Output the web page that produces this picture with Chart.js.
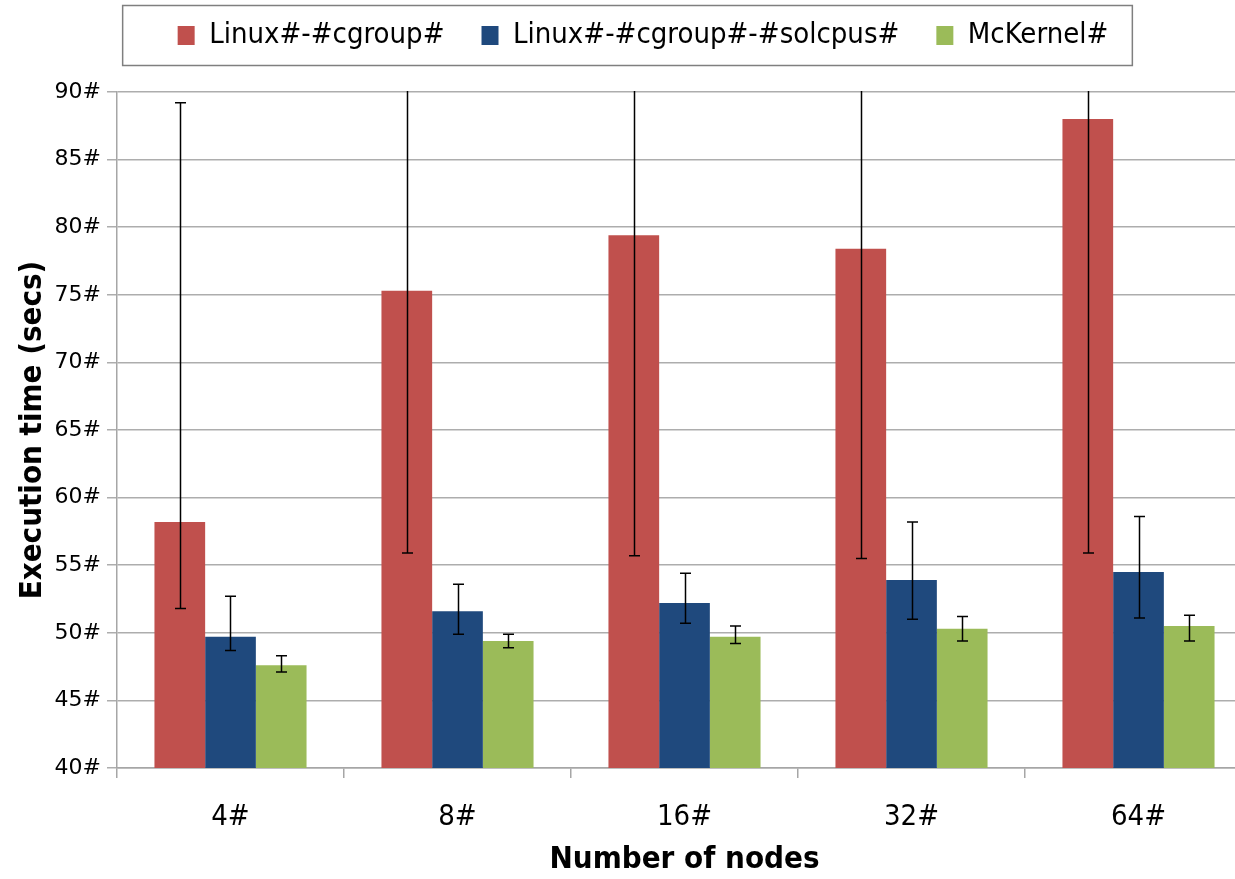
<!DOCTYPE html>
<html>
<head>
<meta charset="utf-8">
<script src="https://cdn.jsdelivr.net/npm/chart.js@4"></script>
<style>
  html, body { margin: 0; padding: 0; background: #fff; overflow: hidden; }
  #wrap { width: 1252px; height: 879px; }
</style>
</head>
<body>
<div id="wrap"><canvas id="chart" width="1252" height="879"></canvas></div>
<script>
// ---- data ----
const nodes = ['4#', '8#', '16#', '32#', '64#'];
const seriesNames = ['Linux#-#cgroup#', 'Linux#-#cgroup#-#solcpus#', 'McKernel#'];

const cgroup   = [58.2, 75.3, 79.4, 78.4, 88.0];
const cgroupLo = [51.8, 55.9, 55.7, 55.5, 55.9];
const cgroupHi = [89.2, 96.0, 98.0, 97.0, 99.0]; // tops above 90 are cut off in the picture

const isol   = [49.7, 51.6, 52.2, 53.9, 54.5];
const isolLo = [48.7, 49.9, 50.7, 51.0, 51.1];
const isolHi = [52.7, 53.6, 54.4, 58.2, 58.6];

const mck   = [47.6, 49.4, 49.7, 50.3, 50.5];
const mckLo = [47.1, 48.9, 49.2, 49.4, 49.4];
const mckHi = [48.3, 49.9, 50.5, 51.2, 51.3];

const colors = ['#C0504D', '#1F497D', '#9BBB59'];
const errors = [[cgroupLo, cgroupHi], [isolLo, isolHi], [mckLo, mckHi]];

const narrow = '"Liberation Sans Narrow", "DejaVu Sans Condensed", sans-serif';

// min/max whiskers on each bar
const errorBars = {
  id: 'errorBars',
  afterDatasetsDraw(chart) {
    const ctx = chart.ctx;
    const area = chart.chartArea;
    const y = chart.scales.y;
    ctx.save();
    ctx.beginPath();
    ctx.rect(area.left, area.top - 1, area.right - area.left, area.bottom - area.top + 1);
    ctx.clip();
    ctx.strokeStyle = '#000';
    ctx.lineWidth = 1.5;
    chart.data.datasets.forEach((ds, i) => {
      const meta = chart.getDatasetMeta(i);
      meta.data.forEach((bar, j) => {
        const lo = y.getPixelForValue(errors[i][0][j]);
        const hi = y.getPixelForValue(errors[i][1][j]);
        const x = Math.round(bar.x) + 0.5;
        ctx.beginPath();
        ctx.moveTo(x, lo); ctx.lineTo(x, hi);
        ctx.moveTo(x - 5.5, lo); ctx.lineTo(x + 5.5, lo);
        ctx.moveTo(x - 5.5, hi); ctx.lineTo(x + 5.5, hi);
        ctx.stroke();
      });
    });
    ctx.restore();
  }
};

// frame round the legend, fixed legend height, legend nudged right
const legendFrame = {
  id: 'legendFrame',
  afterInit(chart) {
    const lg = chart.legend;
    const fit = lg.fit;
    lg.fit = function () { fit.call(this); this.height = 108; };
  },
  afterLayout(chart) {
    chart.legend.left += 17;
    chart.legend.right += 17;
  },
  afterDraw(chart) {
    const boxes = chart.legend.legendHitBoxes;
    if (!boxes || !boxes.length) return;
    const left = boxes[0].left - 55;
    const last = boxes[boxes.length - 1];
    const right = last.left + last.width + 24;
    const ctx = chart.ctx;
    ctx.save();
    ctx.strokeStyle = '#7f7f7f';
    ctx.lineWidth = 1.5;
    ctx.strokeRect(left, 5.5, right - left, 60);
    ctx.restore();
  }
};

new Chart(document.getElementById('chart'), {
  type: 'bar',
  data: {
    labels: nodes,
    datasets: [
      { label: seriesNames[0], data: cgroup, backgroundColor: colors[0] },
      { label: seriesNames[1], data: isol, backgroundColor: colors[1] },
      { label: seriesNames[2], data: mck, backgroundColor: colors[2] }
    ]
  },
  options: {
    responsive: false,
    devicePixelRatio: 1,
    animation: false,
    layout: { padding: { top: -16, left: 0, right: 0, bottom: 0 } },
    datasets: { bar: { barPercentage: 1, categoryPercentage: 0.67 } },
    plugins: {
      tooltip: { enabled: false },
      legend: {
        position: 'top',
        labels: {
          color: '#000',
          font: { family: narrow, size: 29 },
          boxWidth: 17,
          boxHeight: 19,
          padding: 37
        }
      }
    },
    scales: {
      x: {
        afterFit: s => { s.height = 111; },
        grid: { offset: true, drawOnChartArea: false, drawTicks: true, tickLength: 10, color: '#a6a6a6', lineWidth: 1.5 },
        border: { color: '#a6a6a6', width: 1.5 },
        ticks: { color: '#000', font: { family: narrow, size: 29 }, padding: 22 },
        title: { display: true, text: 'Number of nodes', color: '#000', font: { family: narrow, size: 31, weight: 'bold' }, padding: { top: 0, bottom: 0 } }
      },
      y: {
        min: 40,
        max: 90,
        afterFit: s => { s.width = 117; },
        grid: { color: '#adadad', lineWidth: 1.5, tickLength: 10 },
        border: { color: '#a6a6a6', width: 1.5 },
        ticks: { stepSize: 5, color: '#000', font: { family: '"DejaVu Sans", sans-serif', size: 22 }, padding: 6, callback: v => v + '#' },
        title: { display: true, text: 'Execution time (secs)', color: '#000', font: { family: narrow, size: 31, weight: 'bold' }, padding: { top: 14, bottom: 0 } }
      }
    }
  },
  plugins: [errorBars, legendFrame]
});
</script>
</body>
</html>
